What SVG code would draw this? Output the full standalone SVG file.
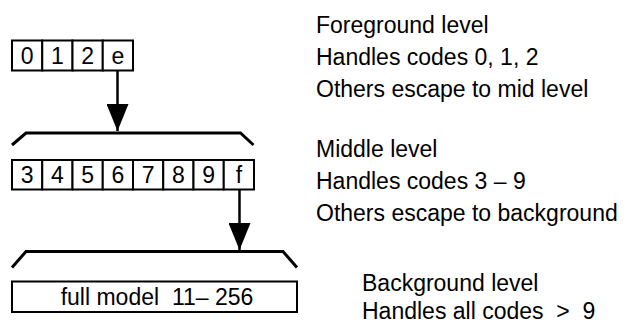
<svg xmlns="http://www.w3.org/2000/svg" width="632" height="325" viewBox="0 0 632 325">
  <style>
    .cell { fill: #ffffff; stroke: #000000; stroke-width: 2; }
    .ct { font-family: "Liberation Sans", Arial, sans-serif; font-size: 23px; fill: #000000; text-anchor: middle; }
    .lbl { font-family: "Liberation Sans", Arial, sans-serif; font-size: 23px; fill: #000000; }
    .brk { fill: none; stroke: #000000; stroke-width: 3; }
    .conn { stroke: #000000; stroke-width: 2.5; fill: none; }
  </style>
  <defs>
    <marker id="ah" markerUnits="userSpaceOnUse" markerWidth="28" markerHeight="22" refX="27" refY="11" orient="auto" viewBox="0 0 28 22">
      <path d="M0,0 L27,11 L0,22 Z" fill="#000000"/>
    </marker>
  </defs>

  <rect width="632" height="325" fill="#ffffff"/>

  <g id="foreground">
    <rect class="cell" x="12" y="40.5" width="30.25" height="30"/>
    <rect class="cell" x="42.25" y="40.5" width="30.25" height="30"/>
    <rect class="cell" x="72.5" y="40.5" width="30.25" height="30"/>
    <rect class="cell" x="102.75" y="40.5" width="30.25" height="30"/>
    <text class="ct" x="27.1" y="63.5">0</text>
    <text class="ct" x="57.4" y="63.5">1</text>
    <text class="ct" x="87.6" y="63.5">2</text>
    <text class="ct" x="117.9" y="63.5">e</text>
  </g>

  <g id="middle">
    <path class="brk" d="M12,145 L26,133 L240.5,133 L253.5,145"/>
    <rect class="cell" x="12" y="160" width="30.25" height="29.5"/>
    <rect class="cell" x="42.25" y="160" width="30.25" height="29.5"/>
    <rect class="cell" x="72.5" y="160" width="30.25" height="29.5"/>
    <rect class="cell" x="102.75" y="160" width="30.25" height="29.5"/>
    <rect class="cell" x="133" y="160" width="30.25" height="29.5"/>
    <rect class="cell" x="163.25" y="160" width="30.25" height="29.5"/>
    <rect class="cell" x="193.5" y="160" width="30.25" height="29.5"/>
    <rect class="cell" x="223.75" y="160" width="30.25" height="29.5"/>
    <text class="ct" x="27.1" y="183">3</text>
    <text class="ct" x="57.4" y="183">4</text>
    <text class="ct" x="87.6" y="183">5</text>
    <text class="ct" x="117.9" y="183">6</text>
    <text class="ct" x="148.1" y="183">7</text>
    <text class="ct" x="178.4" y="183">8</text>
    <text class="ct" x="208.6" y="183">9</text>
    <text class="ct" x="238.9" y="183">f</text>
  </g>

  <g id="background">
    <path class="brk" d="M12,267.5 L26,251.5 L283,251.5 L297,267.5"/>
    <rect class="cell" x="12" y="281.5" width="285" height="30.5"/>
    <text class="ct" x="157" y="305" xml:space="preserve">full model  11– 256</text>
  </g>

  <g id="connectors">
    <line class="conn" x1="117.5" y1="70.5" x2="117.5" y2="131" marker-end="url(#ah)"/>
    <line class="conn" x1="239.5" y1="189.5" x2="239.5" y2="250" marker-end="url(#ah)"/>
  </g>

  <g id="labels">
    <text class="lbl" x="316" y="33">Foreground level</text>
    <text class="lbl" x="316" y="65">Handles codes 0, 1, 2</text>
    <text class="lbl" x="316" y="97">Others escape to mid level</text>
    <text class="lbl" x="316" y="157">Middle level</text>
    <text class="lbl" x="316" y="189">Handles codes 3 – 9</text>
    <text class="lbl" x="316" y="221">Others escape to background</text>
    <text class="lbl" x="362" y="291" xml:space="preserve">Background level</text>
    <text class="lbl" x="362" y="319" xml:space="preserve">Handles all codes  &gt;  9</text>
  </g>
</svg>
